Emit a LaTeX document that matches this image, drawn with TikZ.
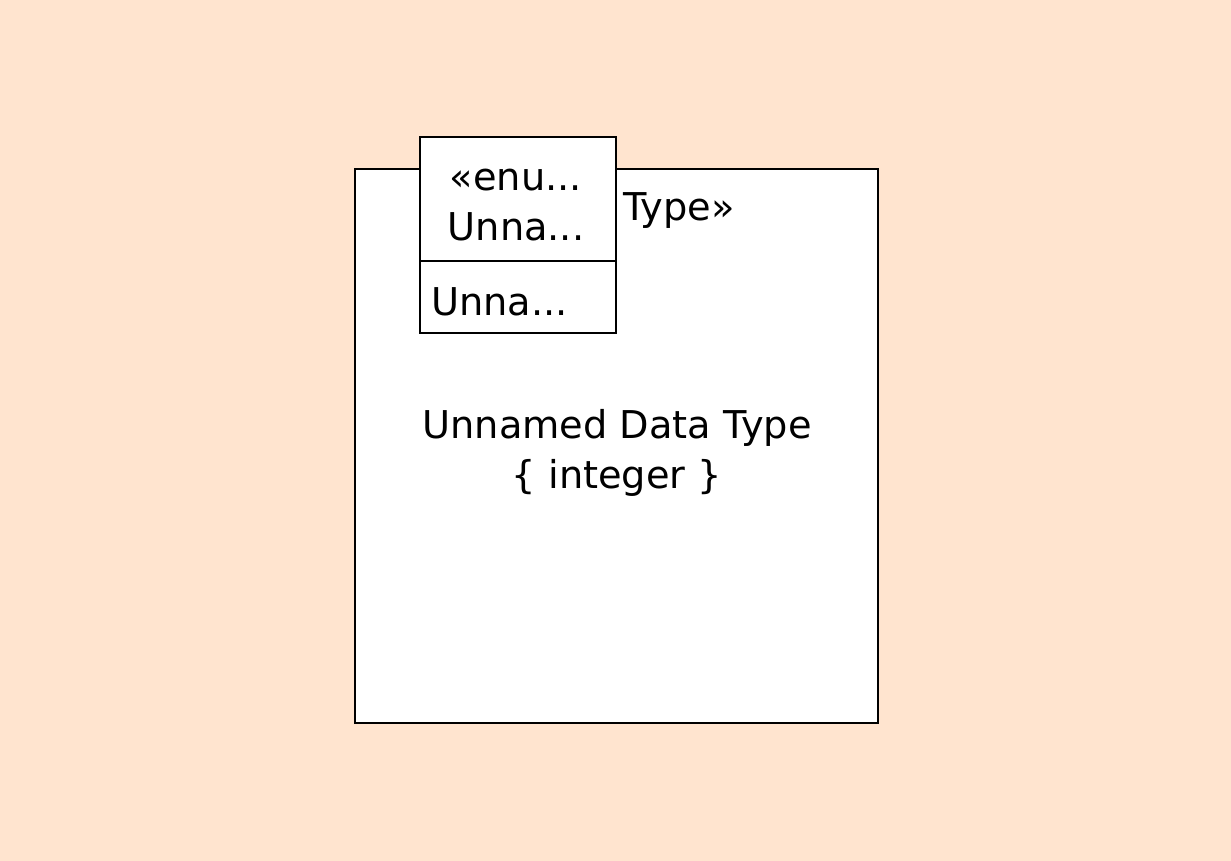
\documentclass[tikz,border=0pt]{standalone}
\usepackage{fontspec}
\setmainfont{DejaVu Sans}
\definecolor{peach}{RGB}{255,228,207}
\tikzset{
  umlbox/.style={draw=black, fill=white, line width=1.6pt, inner sep=0pt},
  umltext/.style={font=\fontsize{38.3}{50}\selectfont, inner sep=0pt, align=center},
}
\begin{document}
\begin{tikzpicture}[x=1pt,y=1pt]
\fill[peach] (0,0) rectangle (1231,861);

% data type
\node[umlbox, minimum width=523, minimum height=554, anchor=north west] (datatype) at (354,693) {};
\node[umltext] (dtitle) at (615.5,650) {«Data Type»};
\node[umltext] (dbody) at (617,408) {Unnamed Data Type\\\{ integer \}};

% enumeration on top
\node[umlbox, minimum width=196, minimum height=196, anchor=north west] (enumbox) at (419,725) {};
\coordinate (divl) at (419,600);
\coordinate (divr) at (615,600);
\draw[line width=1.6pt] (divl) -- (divr);
\node[umltext] (enumhead) at (516,656) {«enu...\\Unna...};
\node[umltext, anchor=west] (enumlit) at (431,559) {Unna...};
\end{tikzpicture}
\end{document}
